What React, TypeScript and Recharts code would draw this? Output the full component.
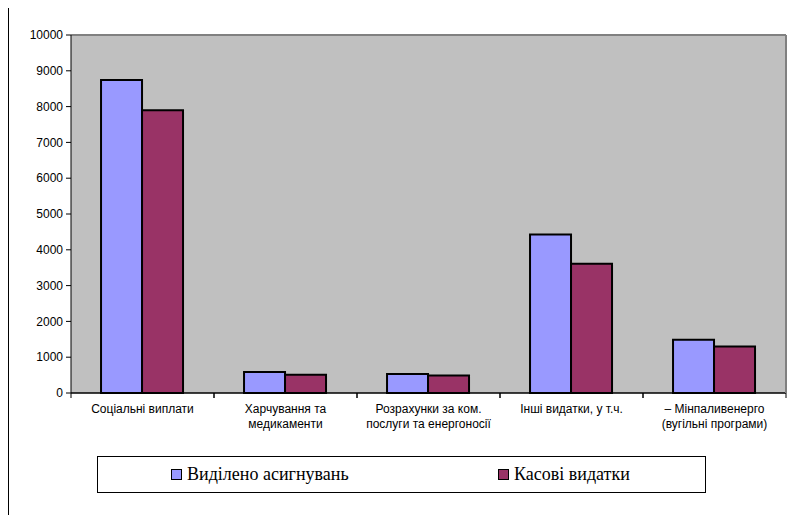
import { useEffect } from "react"
import { BarChart, Bar, XAxis, YAxis, CartesianGrid, ReferenceLine } from "recharts"

// categories (line breaks as in the original labels)
const categories = [
  "Соціальні виплати",
  "Харчування та\nмедикаменти",
  "Розрахунки за ком.\nпослуги та енергоносії",
  "Інші видатки, у т.ч.",
  "– Мінпаливенерго\n(вугільні програми)"
]
const allocated = [8740, 590, 530, 4430, 1490]
const spent = [7900, 510, 490, 3610, 1300]
const yTicks = [0, 1000, 2000, 3000, 4000, 5000, 6000, 7000, 8000, 9000, 10000]
const seriesNames = ["Виділено асигнувань", "Касові видатки"]
const seriesColors = ["#9999FF", "#993366"]

const CHART_W = 787
const CHART_H = 435
const LEFT_AXIS_W = 62
const RIGHT_AXIS_W = 10
const BAND = (CHART_W - LEFT_AXIS_W - RIGHT_AXIS_W) / categories.length

const data = categories.map((name, i) => ({
  name,
  allocated: allocated[i],
  spent: spent[i]
}))

const axisFont = "Liberation Sans"
const legendFont = "Liberation Serif"

// Excel-style category tick: marks on the category borders, label centred
const CategoryTick = ({ x, y, payload }: any) => {
  const lines = String(payload.value).split("\n")
  const half = BAND / 2
  return (
    <g>
      <line x1={x - half} y1={y - 5} x2={x - half} y2={y} stroke="#000" />
      <line x1={x + half} y1={y - 5} x2={x + half} y2={y} stroke="#000" />
      <text
        x={x}
        y={y + 15}
        textAnchor="middle"
        fontSize={12}
        fontFamily={axisFont}
        fill="#000"
      >
        {lines.map((line, i) => (
          <tspan key={i} x={x} dy={i === 0 ? 0 : 15}>
            {line}
          </tspan>
        ))}
      </text>
    </g>
  )
}

export default function App() {
  useEffect(() => {
    document.documentElement.style.overflow = "hidden"
  }, [])

  return (
    <div
      style={{
        position: "relative",
        marginTop: -1,
        width: 800,
        height: 520,
        border: "1px solid #000",
        background: "#fff"
      }}
    >
      <BarChart
        width={CHART_W}
        height={CHART_H}
        data={data}
        margin={{ top: 27, right: 0, left: 0, bottom: 0 }}
        barCategoryGap="21%"
        barGap={0}
      >
        <CartesianGrid vertical={false} fill="#C0C0C0" stroke="#000" />
        <XAxis
          dataKey="name"
          interval={0}
          height={50}
          tickSize={5}
          tickMargin={0}
          tickLine={false}
          axisLine={{ stroke: "#000" }}
          tick={<CategoryTick />}
        />
        <YAxis
          yAxisId="left"
          width={LEFT_AXIS_W}
          domain={[0, 10000]}
          ticks={yTicks}
          interval={0}
          tickSize={5}
          tickMargin={3}
          axisLine={{ stroke: "#000" }}
          tickLine={{ stroke: "#000" }}
          tick={{ fontSize: 12, fontFamily: axisFont, fill: "#000" }}
        />
        <YAxis
          yAxisId="right"
          orientation="right"
          width={RIGHT_AXIS_W}
          domain={[0, 10000]}
          tick={false}
          tickLine={false}
          axisLine={{ stroke: "#808080", strokeWidth: 2 }}
        />
        <ReferenceLine yAxisId="left" y={10000} stroke="#808080" strokeWidth={2} />
        <Bar
          yAxisId="left"
          dataKey="allocated"
          name={seriesNames[0]}
          fill={seriesColors[0]}
          stroke="#000"
          strokeWidth={2}
          isAnimationActive={false}
        />
        <Bar
          yAxisId="left"
          dataKey="spent"
          name={seriesNames[1]}
          fill={seriesColors[1]}
          stroke="#000"
          strokeWidth={2}
          isAnimationActive={false}
        />
      </BarChart>

      {/* legend box */}
      <div
        style={{
          position: "absolute",
          left: 88,
          top: 448,
          width: 609,
          height: 37,
          boxSizing: "border-box",
          border: "1px solid #000"
        }}
      >
        {seriesNames.map((name, i) => (
          <div
            key={name}
            style={{
              position: "absolute",
              left: i === 0 ? 73 : 400,
              top: 0,
              height: 35,
              display: "flex",
              alignItems: "center",
              whiteSpace: "nowrap",
              fontFamily: legendFont,
              fontSize: 18
            }}
          >
            <span
              style={{
                display: "inline-block",
                width: 9,
                height: 9,
                border: "1.5px solid #000",
                background: seriesColors[i],
                marginRight: 5
              }}
            />
            {name}
          </div>
        ))}
      </div>
    </div>
  )
}
